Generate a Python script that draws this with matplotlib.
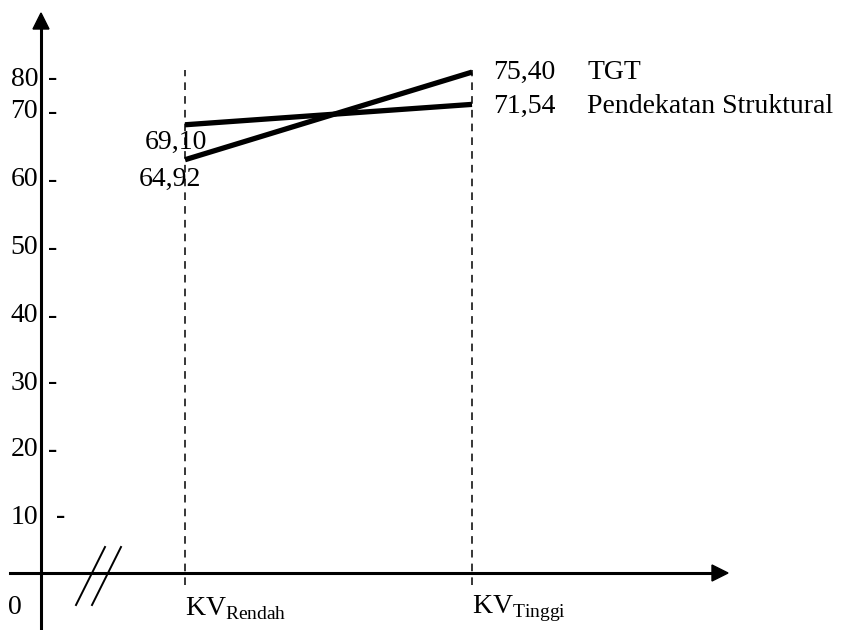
import matplotlib.pyplot as plt
from matplotlib.transforms import blended_transform_factory

plt.rcParams["font.family"] = ["Liberation Serif", "DejaVu Serif"]
plt.rcParams["mathtext.fontset"] = "custom"
plt.rcParams["mathtext.rm"] = "Liberation Serif"

# data
categories = ["Rendah", "Tinggi"]
series_names = ["TGT", "Pendekatan Struktural"]
tgt = [64.92, 75.40]
struktural = [69.10, 71.54]
y_tick_labels = ["80", "70", "60", "50", "40", "30", "20", "10"]

# layout of the hand drawn frame (pixels, from top-left)
W, H = 846, 630
tick_label_rows = [79, 112, 180, 248, 316, 383, 450, 517]
dash_cols = [48, 48, 48, 48, 48, 48, 48, 56]
axis_x, axis_y = 41, 573
cat_px = [185, 472]
fs = 20


def px_to_value(row):
    # linear scale fitted to where the lines are drawn
    return 70.24 - (row - 115.25) / 8.36


fig = plt.figure(figsize=(W / 100, H / 100), dpi=100)

# pixel overlay for axes arrows and labels
frame = fig.add_axes([0, 0, 1, 1])
frame.set_xlim(0, W)
frame.set_ylim(H, 0)
frame.axis("off")

# data axes
ax = fig.add_axes([0, 0, 1, 1])
ax.patch.set_alpha(0)
span = cat_px[1] - cat_px[0]
ax.set_xlim(-cat_px[0] / span, (W - cat_px[0]) / span)
ax.set_ylim(px_to_value(H), px_to_value(0))
ax.axis("off")

# y axis with arrow
frame.plot([axis_x, axis_x], [628, 28], color="black", lw=2.2)
frame.fill([axis_x - 8, axis_x + 8, axis_x], [29, 29, 13], color="black")
# x axis with arrow
frame.plot([10, 713], [axis_y, axis_y], color="black", lw=2.2)
frame.fill([712, 712, 728], [axis_y - 8, axis_y + 8, axis_y], color="black")
# axis break
frame.plot([105, 76], [547, 605], color="black", lw=1.4)
frame.plot([121, 92], [547, 605], color="black", lw=1.4)

for lab, row, dc in zip(y_tick_labels, tick_label_rows, dash_cols):
    frame.text(38, row, lab, ha="right", va="center", fontsize=fs)
    frame.text(dc, row, "-", ha="left", va="center", fontsize=fs,
               fontweight="bold" if lab in ("20", "10") else "normal")
frame.text(8, 607, "0", ha="left", va="center", fontsize=fs)

# dashed guides at categories
x = list(range(len(categories)))
for xi in x:
    ax.axvline(xi, ymin=(H - 585) / H, ymax=(H - 70) / H, color="black",
               lw=1.1, ls=(0, (5, 4)))

# category labels
trans = blended_transform_factory(ax.transData, frame.transData)
for xi, cat in zip(x, categories):
    ax.text(xi, 609, "KV$_{\\mathrm{" + cat + "}}$", transform=trans,
            ha="left", va="center", fontsize=fs)

# lines
ax.plot(x, tgt, color="black", lw=3.8, solid_capstyle="butt")
ax.plot(x, struktural, color="black", lw=3.8, solid_capstyle="butt")

fmt = lambda v: f"{v:.2f}".replace(".", ",")

# left values
ax.annotate(fmt(struktural[0]), (0, struktural[0]), xytext=(-6.5, -13),
            textcoords="offset points", ha="center", va="center", fontsize=fs)
ax.annotate(fmt(tgt[0]), (0, tgt[0]), xytext=(-10.5, -14),
            textcoords="offset points", ha="center", va="center", fontsize=fs)

# right values and series names
for vals, name, dy in [(tgt, series_names[0], 0), (struktural, series_names[1], -1.5)]:
    ax.annotate(fmt(vals[1]), (1, vals[1]), xytext=(15, dy),
                textcoords="offset points", ha="left", va="center", fontsize=fs)
    ax.annotate(name, (1, vals[1]), xytext=(83, dy),
                textcoords="offset points", ha="left", va="center", fontsize=fs)

fig.savefig("out.png", dpi=100)
